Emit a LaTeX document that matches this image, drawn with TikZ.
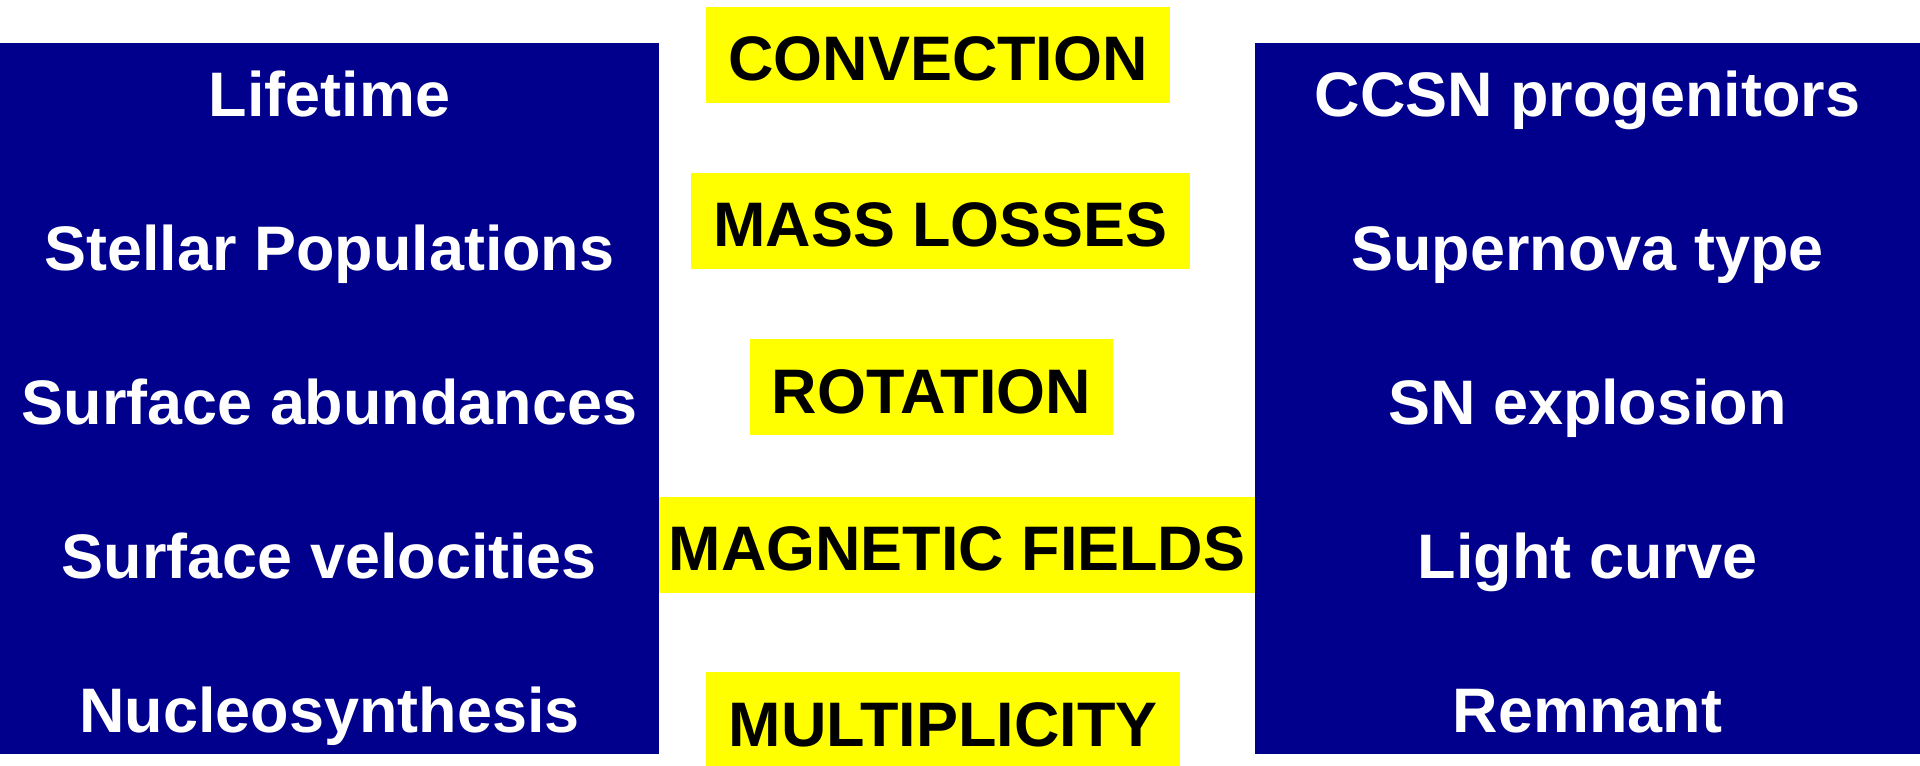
\documentclass[tikz,border=0pt]{standalone}
\usepackage{fontspec}
\setmainfont{Liberation Sans}
\definecolor{stnavy}{RGB}{0,0,140}
\definecolor{styellow}{RGB}{255,255,0}
\usepackage{tikz}
\usetikzlibrary{positioning}

\begin{document}
\begin{tikzpicture}[
  obsitem/.style={anchor=base, text=white, font=\fontsize{17.9pt}{21pt}\selectfont\bfseries},
  physbox/.style={fill=styellow, text=black, inner sep=0pt, minimum height=0.96cm,
                  text height=0.52cm, text depth=0cm, font=\fontsize{17.9pt}{21pt}\selectfont\bfseries}
]

% === Canvas ===
\fill[white] (0,0) rectangle (19.2,7.65);
\useasboundingbox (0,0) rectangle (19.2,7.65);

% === Stellar observables (left panel) ===
\fill[stnavy] (0,0.11) rectangle (6.59,7.22);
\node[obsitem] (lifetime) at (3.295,6.48) {Lifetime};
\node[obsitem] (stpop)    at (3.295,4.94) {Stellar Populations};
\node[obsitem] (surfab)   at (3.295,3.40) {Surface abundances};
\node[obsitem] (surfvel)  at (3.295,1.86) {Surface velocities};
\node[obsitem] (nucleo)   at (3.295,0.33) {Nucleosynthesis};

% === Supernova observables (right panel) ===
\fill[stnavy] (12.55,0.11) rectangle (19.2,7.22);
\node[obsitem] (ccsn)     at (15.875,6.48) {CCSN progenitors};
\node[obsitem] (sntype)   at (15.875,4.94) {Supernova type};
\node[obsitem] (snexpl)   at (15.875,3.40) {SN explosion};
\node[obsitem] (lcurve)   at (15.875,1.86) {Light curve};
\node[obsitem] (remnant)  at (15.875,0.33) {Remnant};

% === Physical ingredients (middle) ===
\node[physbox, minimum width=4.64cm] (convect)  at (9.38,7.10)  {CONVECTION};
\node[physbox, minimum width=4.99cm] (massloss) at (9.405,5.44) {MASS LOSSES};
\node[physbox, minimum width=3.63cm] (rotat)    at (9.315,3.775) {ROTATION};
\node[physbox, minimum width=5.96cm] (magfield) at (9.57,2.20)  {MAGNETIC FIELDS};
\node[physbox, minimum width=4.74cm] (multipl)  at (9.43,0.45)  {MULTIPLICITY};

\end{tikzpicture}
\end{document}
